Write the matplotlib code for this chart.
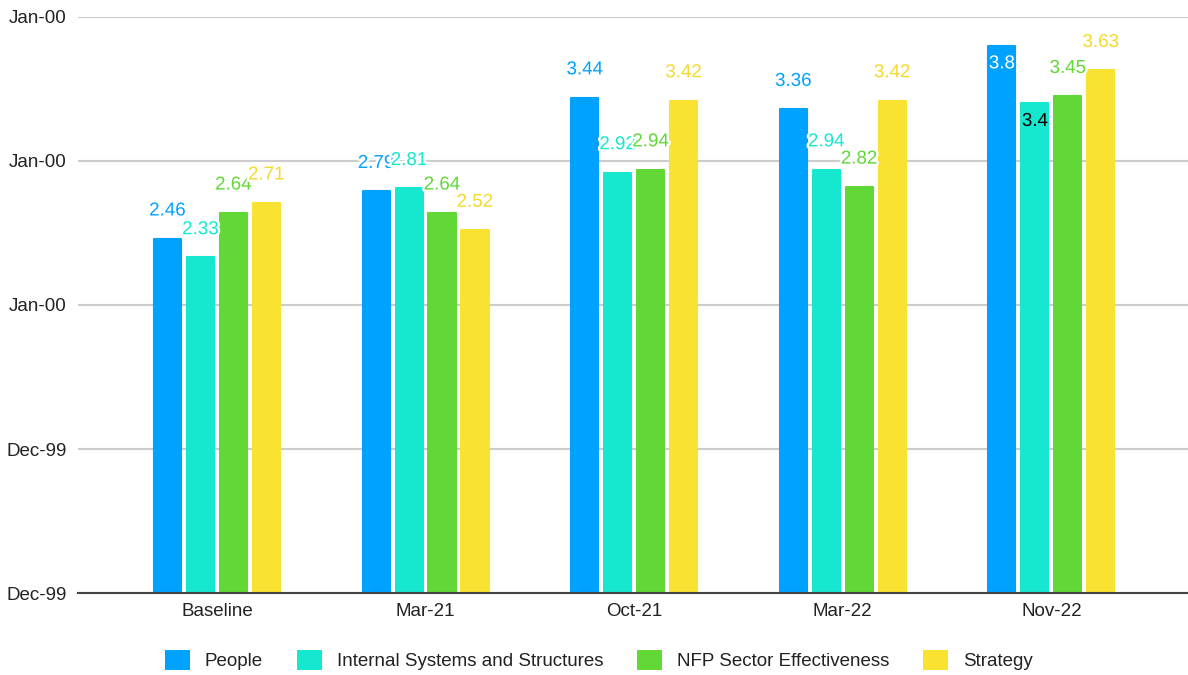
import matplotlib
matplotlib.use("Agg")
import matplotlib.pyplot as plt
import matplotlib.patheffects as pe
from matplotlib.patches import Patch
import numpy as np

categories = ["Baseline", "Mar-21", "Oct-21", "Mar-22", "Nov-22"]
series_names = ["People", "Internal Systems and Structures", "NFP Sector Effectiveness", "Strategy"]
people = [2.46, 2.79, 3.44, 3.36, 3.8]
internal = [2.33, 2.81, 2.92, 2.94, 3.4]
nfp = [2.64, 2.64, 2.94, 2.82, 3.45]
strategy = [2.71, 2.52, 3.42, 3.42, 3.63]
y_ticks = [0, 1, 2, 3, 4]
y_tick_labels = ["Dec-99", "Dec-99", "Jan-00", "Jan-00", "Jan-00"]

series = [people, internal, nfp, strategy]
colors = ["#00A2FF", "#16E7CF", "#61D836", "#FAE232"]
label_colors = ["#00A2FF", "#16E7CF", "#61D836", "#F5D92C"]
# labels drawn inside the bar (series index, category index) -> text colour
inside_labels = {(0, 4): "white", (1, 4): "black"}

plt.rcParams['font.family'] = ['Liberation Sans', 'DejaVu Sans']
fig = plt.figure(figsize=(11.88, 6.75), dpi=100)
ax = fig.add_axes([78/1188, 82/675, 1 - 78/1188, (593-17)/675])

x = np.arange(len(categories))
pitch = 0.158
width = 0.130
for i, (vals, col) in enumerate(zip(series, colors)):
    pos = x + (i - 1.5) * pitch
    bars = ax.bar(pos, vals, width=width, color=col, edgecolor=col, linewidth=1.5, zorder=2)
    for b in bars:
        b.set_joinstyle("round")
    for j, (px, v) in enumerate(zip(pos, vals)):
        txt = f"{v:g}"
        if (i, j) in inside_labels:
            ax.annotate(txt, (px, v), xytext=(0, -13), textcoords="offset points",
                        ha="center", va="center", fontsize=13.5,
                        color=inside_labels[(i, j)], zorder=5,
                        path_effects=[pe.withStroke(linewidth=3, foreground=col)])
        else:
            ax.annotate(txt, (px, v), xytext=(0, 20), textcoords="offset points",
                        ha="center", va="center", fontsize=13.5,
                        color=label_colors[i], zorder=5,
                        path_effects=[pe.withStroke(linewidth=3.5, foreground="white")])

ax.set_xlim(-0.666, 4.655)
ax.set_ylim(0, 4)
ax.set_yticks(y_ticks)
ax.set_yticklabels(y_tick_labels)
ax.set_xticks(x)
ax.set_xticklabels(categories)
ax.tick_params(axis="both", length=0, labelsize=13.5, colors="#222222")
ax.tick_params(axis="y", pad=8)
ax.tick_params(axis="x", pad=7)
ax.yaxis.grid(True, color="#CCCCCC", linewidth=1.5, zorder=0)
ax.set_axisbelow(True)
for s in ["top", "right", "left"]:
    ax.spines[s].set_visible(False)
ax.spines["bottom"].set_color("#444444")
ax.spines["bottom"].set_linewidth(1.5)
ax.spines["bottom"].set_zorder(3)

handles = [Patch(facecolor=c, edgecolor="none") for c in colors]
fig.legend(handles, series_names, loc="center", bbox_to_anchor=(0.504, 1 - 660/675),
           ncol=4, frameon=False, fontsize=13.5, handlelength=1.33, handleheight=1.33,
           handletextpad=0.8, columnspacing=1.8, labelcolor="#222222")

fig.savefig("out.png", dpi=100)
